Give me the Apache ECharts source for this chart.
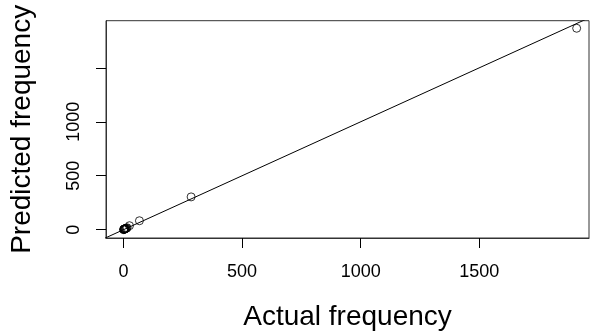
<!DOCTYPE html>
<html>
<head>
<meta charset="utf-8">
<script src="https://cdn.jsdelivr.net/npm/echarts@6/dist/echarts.min.js"></script>
<style>
  html, body { margin: 0; padding: 0; background: #fff; }
  #chart { width: 590px; height: 336px; }
</style>
</head>
<body>
<div id="chart"></div>
<script>
// actual vs predicted counts
const actual    = [0, 1, 2, 3, 4, 5, 6, 8, 10, 12, 15, 25, 67, 285, 1911];
const predicted = [1, 2, 4, 5, 6, 8, 9, 10, 12, 14, 18, 37, 83, 304, 1867];
const xTicks = [0, 500, 1000, 1500];
const yTicks = [0, 500, 1000, 1500];
const yTickLabels = [0, 500, 1000];
// y = x reference line endpoints
const refLine = [-100, 2100];

const points = actual.map((v, i) => [v, predicted[i]]);
const font = 'Liberation Sans, Arial, sans-serif';

const chart = echarts.init(document.getElementById('chart'), null, { renderer: 'canvas' });

chart.setOption({
  animation: false,
  backgroundColor: '#fff',
  grid: {
    left: 105.7, right: 1, top: 20.7, bottom: 97,
    show: true, borderColor: '#333', borderWidth: 1,
    backgroundColor: 'transparent'
  },
  xAxis: {
    type: 'value', min: -74, max: 1963,
    splitLine: { show: false },
    axisLine: { show: true, onZero: false, lineStyle: { color: '#333', width: 1 } },
    axisTick: { show: true, inside: false, length: 10, customValues: xTicks,
                lineStyle: { color: '#000', width: 1 } },
    axisLabel: { customValues: xTicks, margin: 25, fontSize: 18, color: '#000', fontFamily: font,
                 formatter: v => String(v) },
    name: 'Actual frequency', nameLocation: 'middle', nameGap: 65,
    nameTextStyle: { fontSize: 28, color: '#000', fontFamily: font }
  },
  yAxis: {
    type: 'value', min: -77, max: 1937,
    splitLine: { show: false },
    axisLine: { show: true, onZero: false, lineStyle: { color: '#333', width: 1 } },
    axisTick: { show: true, inside: false, length: 10, customValues: yTicks,
                lineStyle: { color: '#000', width: 1 } },
    axisLabel: { customValues: yTickLabels, rotate: 90, margin: 23, fontSize: 18, color: '#000', fontFamily: font,
                 formatter: v => String(v) },
    name: 'Predicted frequency', nameLocation: 'middle', nameGap: 70,
    nameTextStyle: { fontSize: 28, color: '#000', fontFamily: font }
  },
  series: [
    {
      type: 'line',
      data: refLine.map(v => [v, v]),
      symbol: 'none',
      clip: true,
      lineStyle: { color: '#000', width: 1 },
      z: 2
    },
    {
      type: 'scatter',
      data: points,
      symbol: 'circle',
      symbolSize: 8,
      itemStyle: { color: 'rgba(0,0,0,0)', borderColor: '#000', borderWidth: 1 },
      z: 3
    }
  ]
});
</script>
</body>
</html>
